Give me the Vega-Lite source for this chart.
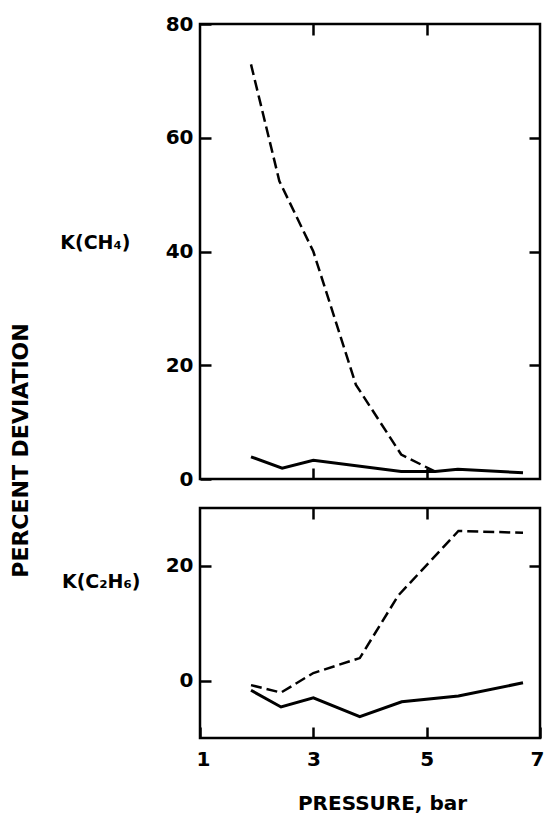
{
  "$schema": "https://vega.github.io/schema/vega-lite/v6.json",
  "padding": {"left": 10, "top": 12, "right": 0, "bottom": 10},
  "background": "white",
  "title": {"text": "PERCENT DEVIATION", "orient": "left", "anchor": "middle", "font": "DejaVu Sans", "fontSize": 22, "fontWeight": "bold", "color": "black", "offset": 25, "dx": -37},
  "bounds": "flush",
  "spacing": 29,
  "datasets": {
    "ch4_dash": [
      {"pressure": 1.9, "deviation": 72.9},
      {"pressure": 2.4, "deviation": 52.4},
      {"pressure": 3.0, "deviation": 40.0},
      {"pressure": 3.75, "deviation": 16.6},
      {"pressure": 4.55, "deviation": 4.3},
      {"pressure": 5.15, "deviation": 1.3}
    ],
    "ch4_solid": [
      {"pressure": 1.9, "deviation": 3.9},
      {"pressure": 2.45, "deviation": 1.9},
      {"pressure": 3.0, "deviation": 3.3},
      {"pressure": 4.55, "deviation": 1.3},
      {"pressure": 5.15, "deviation": 1.3},
      {"pressure": 5.55, "deviation": 1.7},
      {"pressure": 6.7, "deviation": 1.1}
    ],
    "c2h6_dash": [
      {"pressure": 1.9, "deviation": -0.8},
      {"pressure": 2.43, "deviation": -2.1},
      {"pressure": 3.0, "deviation": 1.3},
      {"pressure": 3.82, "deviation": 3.9},
      {"pressure": 4.5, "deviation": 14.8},
      {"pressure": 5.56, "deviation": 26.0},
      {"pressure": 6.7, "deviation": 25.7}
    ],
    "c2h6_solid": [
      {"pressure": 1.9, "deviation": -1.7},
      {"pressure": 2.43, "deviation": -4.6},
      {"pressure": 3.0, "deviation": -3.0},
      {"pressure": 3.82, "deviation": -6.3},
      {"pressure": 4.56, "deviation": -3.7},
      {"pressure": 5.56, "deviation": -2.7},
      {"pressure": 6.7, "deviation": -0.4}
    ]
  },
  "vconcat": [
    {
      "width": 340,
      "height": 455,
      "layer": [
        {
          "data": {"name": "ch4_dash"},
          "mark": {"type": "line", "color": "black", "strokeWidth": 2.5, "strokeDash": [11, 5]},
          "encoding": {
            "x": {"field": "pressure", "type": "quantitative", "scale": {"domain": [1, 7], "nice": false, "zero": false},
                  "axis": {"orient": "bottom", "values": [3, 5], "labels": false, "title": null}},
            "y": {"field": "deviation", "type": "quantitative", "scale": {"domain": [0, 80], "nice": false},
                  "axis": {"orient": "left", "values": [0, 20, 40, 60, 80], "labelPadding": 7, "title": "K(CH₄)", "titleAngle": 0, "titleAlign": "right", "titleBaseline": "alphabetic", "titleX": -81, "titleY": 224}}
          }
        },
        {
          "data": {"name": "ch4_solid"},
          "mark": {"type": "line", "color": "black", "strokeWidth": 3},
          "encoding": {
            "x": {"field": "pressure", "type": "quantitative", "scale": {"domain": [1, 7], "nice": false, "zero": false},
                  "axis": {"orient": "top", "values": [3, 5], "labels": false, "title": null}},
            "y": {"field": "deviation", "type": "quantitative", "scale": {"domain": [0, 80], "nice": false},
                  "axis": {"orient": "right", "values": [20, 40, 60], "labels": false, "title": null}}
          }
        }
      ],
      "resolve": {"axis": {"x": "independent", "y": "independent"}}
    },
    {
      "width": 340,
      "height": 230,
      "layer": [
        {
          "mark": {"type": "rule", "color": "black", "strokeWidth": 1},
          "encoding": {"y": {"datum": 0, "type": "quantitative", "scale": {"domain": [-10, 30], "nice": false}, "axis": null}}
        },
        {
          "data": {"name": "c2h6_dash"},
          "mark": {"type": "line", "color": "black", "strokeWidth": 2.5, "strokeDash": [11, 5]},
          "encoding": {
            "x": {"field": "pressure", "type": "quantitative", "scale": {"domain": [1, 7], "nice": false, "zero": false},
                  "axis": {"orient": "bottom", "values": [1, 3, 5, 7], "labelPadding": 11, "labelFlush": true, "labelFlushOffset": 4, "title": "PRESSURE, bar", "titleX": 182, "titleY": 82, "titleBaseline": "alphabetic", "titleAlign": "center", "titleFontSize": 20}},
            "y": {"field": "deviation", "type": "quantitative", "scale": {"domain": [-10, 30], "nice": false},
                  "axis": {"orient": "left", "values": [0, 20], "labelPadding": 7, "title": "K(C₂H₆)", "titleAngle": 0, "titleAlign": "right", "titleBaseline": "alphabetic", "titleX": -71, "titleY": 79}}
          }
        },
        {
          "data": {"name": "c2h6_solid"},
          "mark": {"type": "line", "color": "black", "strokeWidth": 3},
          "encoding": {
            "x": {"field": "pressure", "type": "quantitative", "scale": {"domain": [1, 7], "nice": false, "zero": false},
                  "axis": {"orient": "top", "values": [3, 5], "labels": false, "title": null}},
            "y": {"field": "deviation", "type": "quantitative", "scale": {"domain": [-10, 30], "nice": false},
                  "axis": {"orient": "right", "values": [20], "labels": false, "title": null}}
          }
        }
      ],
      "resolve": {"axis": {"x": "independent", "y": "independent"}}
    }
  ],
  "config": {
    "view": {"stroke": "black", "strokeWidth": 2.5},
    "axis": {
      "domain": false, "grid": false, "tickSize": 11, "offset": -11, "tickWidth": 2.5, "tickColor": "black", "zindex": 1,
      "labelFlush": false, "labelOverlap": false,
      "labelFont": "DejaVu Sans", "labelFontWeight": "bold", "labelFontSize": 20, "labelColor": "black",
      "titleFont": "DejaVu Sans", "titleFontWeight": "bold", "titleFontSize": 19, "titleColor": "black"
    }
  }
}
